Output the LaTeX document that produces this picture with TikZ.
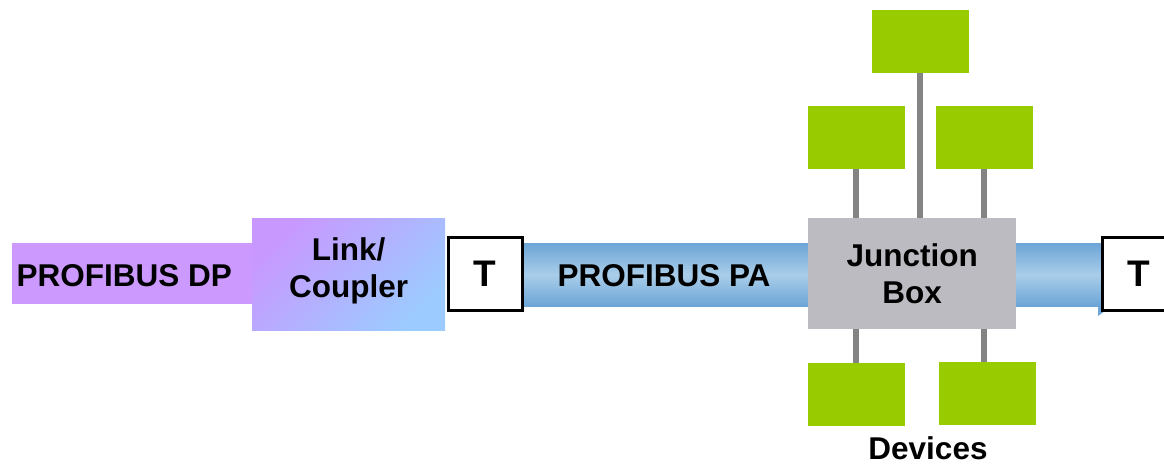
\documentclass[tikz,border=0pt]{standalone}
\usepackage{fontspec}
\setmainfont{Liberation Sans}
\definecolor{dpviolet}{HTML}{CC99FF}
\definecolor{cplblue}{HTML}{9CCBFF}
\definecolor{cplviolet}{HTML}{C898FF}
\definecolor{cabledark}{HTML}{6CA5D6}
\definecolor{cablelight}{HTML}{A9CDE9}
\definecolor{jbgray}{HTML}{BBBBC1}
\definecolor{devgreen}{HTML}{99CC00}
\definecolor{stemgray}{HTML}{848484}
\begin{document}
\begin{tikzpicture}[x=1pt,y=-1pt,
  lbl/.style={font=\fontsize{31.5}{37}\selectfont\bfseries, text=black, align=center},
  box/.style={draw=none, inner sep=0pt, anchor=north west},
  tbox/.style={box, fill=white, draw=black, line width=3pt, minimum width=74pt, minimum height=73pt,
               font=\fontsize{37}{40}\selectfont\bfseries},
  device/.style={box, fill=devgreen, minimum width=97pt, minimum height=63pt},
  stem/.style={draw=stemgray, line width=6pt}
]
\useasboundingbox (0,0) rectangle (1164,465);
% cable
\node[box, minimum width=600pt, minimum height=63pt,
      top color=cabledark, bottom color=cabledark, middle color=cablelight] (cable) at (522,243) {};
\fill[cabledark] (1098,306) -- (1112,306) -- (1098,316) -- cycle;
% DP segment
\node[box, fill=dpviolet, minimum width=240pt, minimum height=61pt] (dp) at (12,243) {};
\node[lbl, anchor=west] (dptext) at (13,276) {PROFIBUS DP};
% coupler
\node[box, minimum width=193pt, minimum height=112pt,
      top color=cplviolet, bottom color=cplblue, shading angle=45] (coupler) at (252,218) {};
\node[lbl] (cpltext) at ([yshift=3pt]coupler.center) {Link/\\Coupler};
% terminators
\node[tbox] (t1) at (446.5,235.5) {T};
\node[tbox] (t2) at (1100.5,235.5) {T};
% PA label
\node[lbl] (pa) at (664,276) {PROFIBUS PA};
% junction box
\node[box, fill=jbgray, minimum width=208pt, minimum height=111pt, lbl] (jb) at (808,218) {Junction\\Box};
% devices
\node[device] (dtop) at (872,10) {};
\node[device] (dul) at (808,106) {};
\node[device] (dur) at (936,106) {};
\node[device] (dll) at (808,363) {};
\node[device] (dlr) at (939,362) {};
% stems
\draw[stem] (dtop.south -| 920,0) -- (jb.north -| 920,0);
\draw[stem] (dul.south -| 856,0) -- (jb.north -| 856,0);
\draw[stem] (dur.south -| 984,0) -- (jb.north -| 984,0);
\draw[stem] (jb.south -| 856,0) -- (dll.north -| 856,0);
\draw[stem] (jb.south -| 984,0) -- (dlr.north -| 984,0);
% label
\node[lbl, anchor=base, inner sep=0pt] (devices) at (928,459) {Devices};
\end{tikzpicture}
\end{document}
